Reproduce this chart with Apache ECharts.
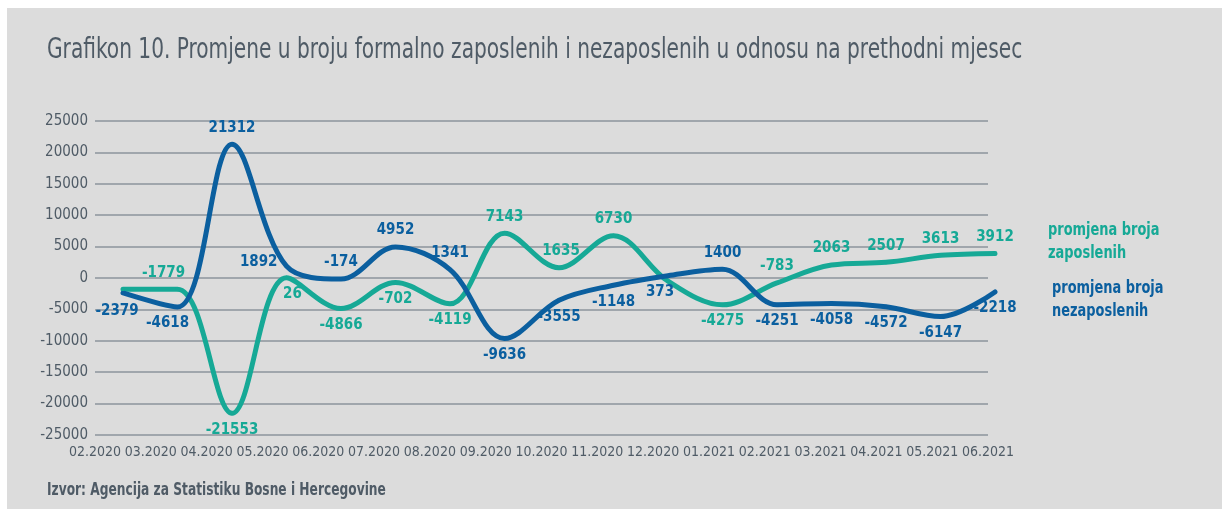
<!DOCTYPE html>
<html>
<head>
<meta charset="utf-8">
<script src="https://cdn.jsdelivr.net/npm/echarts@6/dist/echarts.min.js"></script>
<style>
  html, body { margin: 0; padding: 0; background: #ffffff; }
  #chart { width: 1229px; height: 515px; }
</style>
</head>
<body>
<div id="chart"></div>
<script>
const months = ['02.2020', '03.2020', '04.2020', '05.2020', '06.2020', '07.2020', '08.2020', '09.2020',
    '10.2020', '11.2020', '12.2020', '01.2021', '02.2021', '03.2021', '04.2021', '05.2021', '06.2021']

// promjena broja zaposlenih
const zaposleni = [-1779, -1779, -21553, 26, -4866, -702, -4119, 7143, 1635, 6730, -500, -4275, -783, 2063, 2507, 3613, 3912]
// promjena broja nezaposlenih
const nezaposleni = [-2379, -4618, 21312, 1892, -174, 4952, 1341, -9636, -3555, -1148, 373, 1400, -4251, -4058, -4572, -6147, -2218]

// label placement per point ('none' = no label)
const zapPos = ['none', 'top', 'bottom', 'bottom', 'bottom', 'bottom', 'bottom', 'top', 'top', 'top', 'none', 'bottom', 'top', 'top', 'top', 'top', 'top']
const nezPos = ['bottom', 'bottom', 'top', 'left', 'top', 'top', 'top', 'bottom', 'bottom', 'bottom', 'bottom', 'top', 'bottom', 'bottom', 'bottom', 'bottom', 'bottom']

const GREEN = '#16a996'
const BLUE = '#0b5f9f'
const GREY = '#4f5b66'
const FONT = "'DejaVu Sans Condensed', 'Liberation Sans Narrow', sans-serif"

const chart = echarts.init(document.getElementById('chart'))

const buildData = (values, positions, color, offsets) => values.map((v, i) => ({
    value: v,
    label: positions[i] === 'none' ? { show: false } : {
        show: true,
        position: positions[i],
        offset: offsets[i] || [0, 0],
        color: color,
        fontFamily: FONT,
        fontSize: 15,
        fontWeight: 'bold',
        distance: 7,
        formatter: p => String(p.value)
    }
}))

const zapOffsets = { 1: [-14, 0], 3: [6, 0], 8: [2, 0] }
const nezOffsets = { 0: [-6, 2], 1: [-10, 0], 3: [0, -4], 10: [-8, 0] }

chart.setOption({
    animation: false,
    textStyle: { fontFamily: FONT },
    graphic: [
        { type: 'rect', shape: { x: 7, y: 8, width: 1215, height: 501 }, style: { fill: '#dcdcdc' }, z: -10 },
        {
            type: 'text', x: 47, y: 37, scaleX: 0.8,
            style: { text: 'Grafikon 10. Promjene u broju formalno zaposlenih i nezaposlenih u odnosu na prethodni mjesec', fill: GREY, font: "28px " + FONT }
        },
        {
            type: 'text', x: 47, y: 482, scaleX: 0.8,
            style: { text: 'Izvor: Agencija za Statistiku Bosne i Hercegovine', fill: GREY, font: "bold 17px " + FONT }
        },
        {
            type: 'text', x: 1048, y: 219, scaleX: 0.8,
            style: { text: 'promjena broja\nzaposlenih', fill: GREEN, font: "bold 18px " + FONT, lineHeight: 23 }
        },
        {
            type: 'text', x: 1052, y: 277, scaleX: 0.8,
            style: { text: 'promjena broja\nnezaposlenih', fill: BLUE, font: "bold 18px " + FONT, lineHeight: 23 }
        }
    ],
    grid: [
        // axis labels and gridlines
        { left: 95, right: 241, top: 121, bottom: 80 },
        // lines
        { left: 123, right: 234, top: 121, bottom: 80 }
    ],
    xAxis: [
        {
            type: 'category', gridIndex: 0, data: months, boundaryGap: false,
            axisLine: { show: false }, axisTick: { show: false },
            axisLabel: { color: GREY, fontSize: 14, fontFamily: FONT, margin: 10, interval: 0 }
        },
        {
            type: 'category', gridIndex: 1, data: months, boundaryGap: false, show: false
        }
    ],
    yAxis: [
        {
            type: 'value', gridIndex: 0, min: -25000, max: 25000, interval: 5000,
            axisLine: { show: false }, axisTick: { show: false },
            axisLabel: { color: GREY, fontSize: 15, fontFamily: FONT, margin: 7, formatter: v => String(v) },
            splitLine: { lineStyle: { color: '#8c959d', width: 1.5 } }
        },
        {
            type: 'value', gridIndex: 1, min: -25000, max: 25000, show: false,
            splitLine: { show: false }
        }
    ],
    series: [
        {
            name: 'promjena broja zaposlenih',
            type: 'line', xAxisIndex: 1, yAxisIndex: 1,
            smooth: 0.35,
            symbol: 'circle', symbolSize: 4, showSymbol: true,
            lineStyle: { color: GREEN, width: 5, cap: 'round' },
            itemStyle: { color: GREEN },
            data: buildData(zaposleni, zapPos, GREEN, zapOffsets)
        },
        {
            name: 'promjena broja nezaposlenih',
            type: 'line', xAxisIndex: 1, yAxisIndex: 1,
            smooth: 0.35,
            symbol: 'circle', symbolSize: 4, showSymbol: true,
            lineStyle: { color: BLUE, width: 5, cap: 'round' },
            itemStyle: { color: BLUE },
            data: buildData(nezaposleni, nezPos, BLUE, nezOffsets)
        }
    ]
})
</script>
</body>
</html>
